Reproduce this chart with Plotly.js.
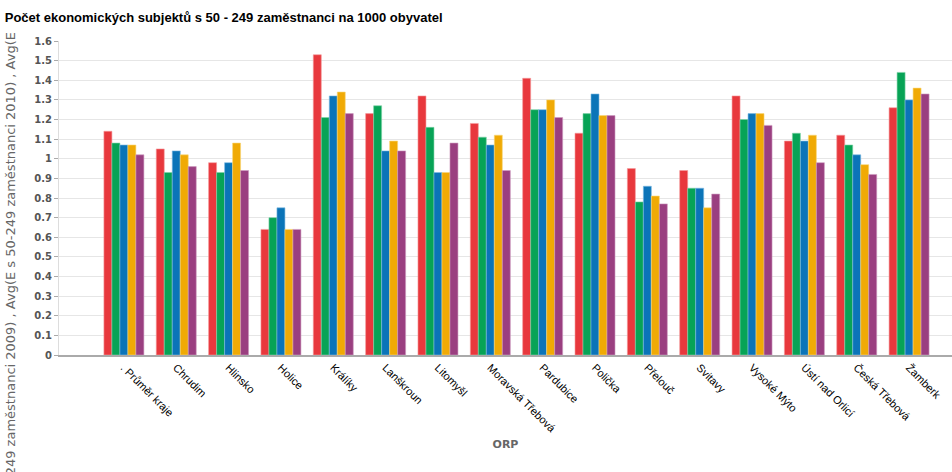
<!DOCTYPE html>
<html>
<head>
<meta charset="utf-8">
<script src="https://cdn.plot.ly/plotly-3.0.1.min.js"></script>
<style>
  html, body { margin: 0; padding: 0; background: #fff; overflow: hidden; }
  #chart { width: 952px; height: 472px; }
</style>
</head>
<body>
<div id="chart"></div>
<script>
const categories = [". Průměr kraje", "Chrudim", "Hlinsko", "Holice", "Králíky", "Lanškroun", "Litomyšl", "Moravská Třebová", "Pardubice", "Polička", "Přelouč", "Svitavy", "Vysoké Mýto", "Ústí nad Orlicí", "Česká Třebová", "Žamberk"];
const seriesNames = ["Avg(E s 50-249 zaměstnanci 2009)", "Avg(E s 50-249 zaměstnanci 2010)", "Avg(E s 50-249 zaměstnanci 2011)", "Avg(E s 50-249 zaměstnanci 2012)", "Avg(E s 50-249 zaměstnanci 2013)"];
const v2009 = [1.14, 1.05, 0.98, 0.64, 1.53, 1.23, 1.32, 1.18, 1.41, 1.13, 0.95, 0.94, 1.32, 1.09, 1.12, 1.26];
const v2010 = [1.08, 0.93, 0.93, 0.70, 1.21, 1.27, 1.16, 1.11, 1.25, 1.23, 0.78, 0.85, 1.20, 1.13, 1.07, 1.44];
const v2011 = [1.07, 1.04, 0.98, 0.75, 1.32, 1.04, 0.93, 1.07, 1.25, 1.33, 0.86, 0.85, 1.23, 1.09, 1.02, 1.30];
const v2012 = [1.07, 1.02, 1.08, 0.64, 1.34, 1.09, 0.93, 1.12, 1.30, 1.22, 0.81, 0.75, 1.23, 1.12, 0.97, 1.36];
const v2013 = [1.02, 0.96, 0.94, 0.64, 1.23, 1.04, 1.08, 0.94, 1.21, 1.22, 0.77, 0.82, 1.17, 0.98, 0.92, 1.33];
const seriesValues = [v2009, v2010, v2011, v2012, v2013];
const colors = ["#e8383d", "#07a356", "#0b74b8", "#f0aa05", "#9a3f80"];
const lineColors = ["#f59a9c", "#7fd3a8", "#7fbbe3", "#f8d67a", "#cf9cc0"];
const yTitle = "Avg(E s 50-249 zaměstnanci 2009) , Avg(E s 50-249 zaměstnanci 2010) , Avg(E";

const traces = seriesValues.map((vals, i) => ({
  type: "bar",
  name: seriesNames[i],
  x: categories,
  y: vals,
  marker: { color: colors[i], line: { color: lineColors[i], width: 0.6 } },
  hoverinfo: "x+y+name"
}));

const layout = {
  width: 952,
  height: 472,
  margin: { l: 59, r: 0, t: 41, b: 117, pad: 0 },
  paper_bgcolor: "#ffffff",
  plot_bgcolor: "#ffffff",
  showlegend: false,
  barmode: "group",
  bargap: 0.236,
  bargroupgap: 0,
  title: {
    text: "Počet ekonomických subjektů s 50 - 249 zaměstnanci na 1000 obyvatel",
    font: { family: "Liberation Sans, Arial, sans-serif", size: 13, color: "#000000", weight: "bold" },
    x: 0.005, xanchor: "left", xref: "container",
    y: 0.962, yanchor: "middle", yref: "container"
  },
  xaxis: {
    type: "category",
    range: [-1.24, 15.82],
    tickangle: 45,
    tickfont: { family: "Liberation Sans, Arial, sans-serif", size: 11, color: "#000000" },
    showgrid: false,
    showline: true,
    linecolor: "#aaaaaa",
    linewidth: 2,
    ticks: "",
    automargin: false,
    title: {
      text: "ORP",
      font: { family: "DejaVu Sans, Verdana, sans-serif", size: 11, color: "#666666", weight: "bold" },
      standoff: 6
    }
  },
  yaxis: {
    range: [0, 1.6],
    dtick: 0.1,
    tick0: 0,
    tickfont: { family: "DejaVu Sans, Verdana, sans-serif", size: 10, color: "#555555", weight: "bold" },
    showgrid: true,
    gridcolor: "#e6e6e6",
    gridwidth: 1,
    zeroline: false,
    showline: true,
    linecolor: "#dddddd",
    linewidth: 1,
    ticks: "outside",
    ticklen: 4,
    tickcolor: "#aaaaaa",
    automargin: false
  },
  annotations: [{
    text: yTitle,
    textangle: -90,
    xref: "paper", yref: "paper",
    x: -0.065, y: 1.035,
    xanchor: "left", yanchor: "top",
    showarrow: false,
    font: { family: "DejaVu Sans, Verdana, sans-serif", size: 13, color: "#666666" }
  }]
};

Plotly.newPlot("chart", traces, layout, { displayModeBar: false });
</script>
</body>
</html>
